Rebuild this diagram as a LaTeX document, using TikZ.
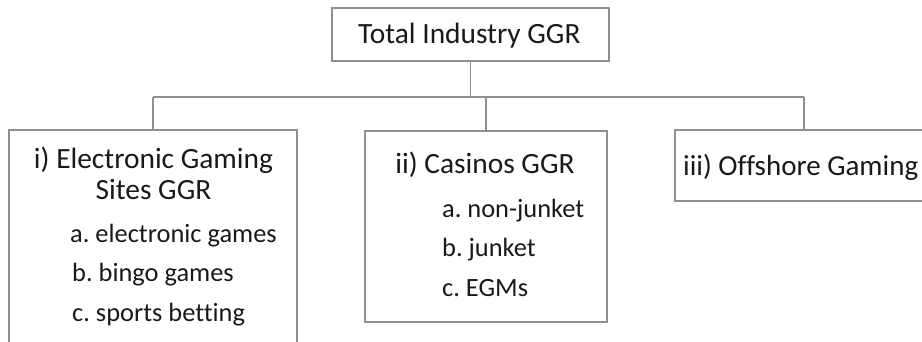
\documentclass[tikz,border=0pt]{standalone}
\usepackage{fontspec}
\setmainfont[Ligatures=NoCommon]{Carlito}
\frenchspacing
\begin{document}
\begin{tikzpicture}[x=1pt,y=-1pt,
  box/.style={draw=linegray,line width=1.6pt,rectangle,inner sep=0pt},
  conn/.style={draw=linegray,line width=1.6pt},
  lbl/.style={inner sep=0pt,text=black!90,font=\fontsize{29.4}{35}\selectfont},
  item/.style={inner sep=0pt,text=black!90,font=\fontsize{26.4}{32}\selectfont,anchor=base west}]
\definecolor{linegray}{HTML}{8F8F8F}
\useasboundingbox (0,0) rectangle (922,341);
\clip (0,0) rectangle (922,341);
% boxes
\node[box,minimum width=277pt,minimum height=53pt] (top) at (470.5,34.5) {};
\node[box,minimum width=288pt,minimum height=232pt] (ege) at (153,246) {};
\node[box,minimum width=242pt,minimum height=191pt] (cas) at (486,226.5) {};
\node[box,minimum width=258pt,minimum height=71pt] (off) at (804,165.5) {};
% bus
\coordinate (busL) at (153,97);
\coordinate (busR) at (804,97);
\draw[conn] (top.south) -- (top.south |- busL);
\draw[conn] (busL) -- (busR);
\draw[conn] (busL) -- (ege.north);
\draw[conn] (cas.north |- busL) -- (cas.north);
\draw[conn] (busR) -- (off.north);
% labels
\node[lbl,anchor=base west] (tlab) at (358,43) {Total Industry GGR};
\node[lbl,anchor=base] (e1) at (153.5,168) {i) Electronic Gaming};
\node[lbl,anchor=base] (e2) at (153.5,199) {Sites GGR};
\node[item] (ea) at (70,242) {a. electronic games};
\node[item] (eb) at (72,281) {b. bingo games};
\node[item] (ec) at (72,321) {c. sports betting};
\node[lbl,anchor=base] (c1) at (485,173) {ii) Casinos GGR};
\node[item] (ca) at (442,217) {a. non-junket};
\node[item] (cb) at (442,256) {b. junket};
\node[item] (cc) at (442,296) {c. EGMs};
\node[lbl,anchor=base west,font=\fontsize{29}{35}\selectfont] (o1) at (683,175) {iii) Offshore Gaming};
\end{tikzpicture}
\end{document}
